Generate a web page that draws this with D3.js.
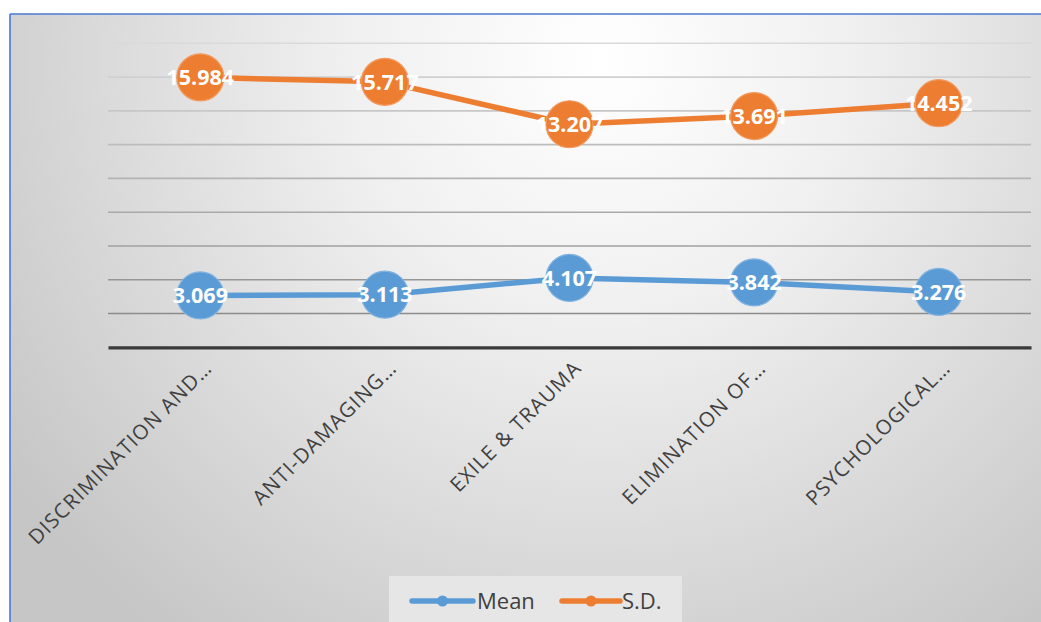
<!DOCTYPE html>
<html><head><meta charset="utf-8">
<script src="https://cdn.jsdelivr.net/npm/d3@7"></script>
<style>html,body{margin:0;padding:0;background:#fff;overflow:hidden}</style>
</head><body>
<svg id="c" width="1041" height="622"></svg>
<script>
const categories = ["DISCRIMINATION AND…", "ANTI-DAMAGING…", "EXILE & TRAUMA", "ELIMINATION OF…", "PSYCHOLOGICAL…"];
const meanValues = [3.069, 3.113, 4.107, 3.842, 3.276];
const sdValues = [15.984, 15.717, 13.207, 13.691, 14.452];
const seriesNames = ["Mean", "S.D."];
const yTicks = [0, 2, 4, 6, 8, 10, 12, 14, 16, 18];

const svg = d3.select("#c");
const defs = svg.append("defs");
const rg = defs.append("radialGradient").attr("id","bg").attr("gradientUnits","userSpaceOnUse")
  .attr("cx",600).attr("cy",60).attr("r",720);
rg.append("stop").attr("offset","0").attr("stop-color","#ffffff");
rg.append("stop").attr("offset","0.35").attr("stop-color","#f0f0f0");
rg.append("stop").attr("offset","1").attr("stop-color","#c6c6c6");

svg.append("rect").attr("x",10).attr("y",14).attr("width",1040).attr("height",620).attr("fill","url(#bg)");
svg.append("line").attr("x1",10).attr("x2",1041).attr("y1",14).attr("y2",14).attr("stroke","#4a78d6").attr("stroke-width",1.6);
svg.append("line").attr("x1",10).attr("x2",10).attr("y1",14).attr("y2",622).attr("stroke","#4a78d6").attr("stroke-width",1.6);

const x = d3.scaleBand().domain(categories).range([108,1031]);
const y = d3.scaleLinear().domain([0,18]).range([347.3,43.3]);
const cx = d => x(d) + x.bandwidth()/2;

const gridColor = d3.scaleLinear().domain([18,2]).range(["#dadada","#8c8c8c"]);
svg.append("g").selectAll("line").data(yTicks.filter(t=>t>0)).join("line")
  .attr("x1",108).attr("x2",1031).attr("y1",d=>y(d)).attr("y2",d=>y(d))
  .attr("stroke",d=>gridColor(d)).attr("stroke-width",1.6);

// x axis
const xAxis = svg.append("g").attr("transform",`translate(0,${y(0)})`)
  .call(d3.axisBottom(x).tickSize(0).tickFormat(""));
xAxis.select(".domain").attr("stroke","#3a3a3a").attr("stroke-width",3.2);

svg.append("g").selectAll("text").data(categories).join("text")
  .attr("transform",d=>`translate(${cx(d)+8},${y(0)+17}) rotate(-45)`)
  .attr("text-anchor","end").attr("dy","0.35em")
  .attr("font-family","'Open Sans', sans-serif").attr("font-size",20.5)
  .attr("letter-spacing","1.1px")
  .attr("fill","#404040").text(d=>d);

const series = [
  {name: seriesNames[0], values: meanValues, color:"#5b9bd5", edge:"#80b3e0"},
  {name: seriesNames[1], values: sdValues, color:"#ed7d31", edge:"#f29a5e"}
];
const line = d3.line().x((v,i)=>cx(categories[i])).y(v=>y(v));
series.forEach(s=>{
  const g = svg.append("g");
  g.append("path").datum(s.values).attr("d",line).attr("fill","none")
    .attr("stroke",s.color).attr("stroke-width",5.5).attr("stroke-linejoin","round");
  g.selectAll("circle").data(s.values).join("circle")
    .attr("cx",(v,i)=>cx(categories[i])).attr("cy",v=>y(v)).attr("r",23.5)
    .attr("fill",s.color).attr("stroke",s.edge).attr("stroke-width",1.2);
  g.selectAll("text").data(s.values).join("text")
    .attr("x",(v,i)=>cx(categories[i])).attr("y",v=>y(v)).attr("dy","0.36em")
    .attr("text-anchor","middle").attr("font-family","'Open Sans', sans-serif")
    .attr("font-weight","bold").attr("font-size",21.5).attr("fill","#ffffff")
    .text(v=>d3.format(".3f")(v));
});

// legend
const lg = svg.append("g");
lg.append("rect").attr("x",389).attr("y",576).attr("width",293).attr("height",60).attr("fill","#e6e6e6");
const legendItems = [
  {name: seriesNames[0], color:"#5b9bd5", x1:412, x2:473, tx:477},
  {name: seriesNames[1], color:"#ed7d31", x1:562, x2:620, tx:622}
];
legendItems.forEach(it=>{
  lg.append("line").attr("x1",it.x1).attr("x2",it.x2).attr("y1",601).attr("y2",601)
    .attr("stroke",it.color).attr("stroke-width",5.5).attr("stroke-linecap","round");
  lg.append("circle").attr("cx",(it.x1+it.x2)/2).attr("cy",601).attr("r",5.5).attr("fill",it.color);
  lg.append("text").attr("x",it.tx).attr("y",601).attr("dy","0.35em")
    .attr("font-family","'Open Sans', sans-serif").attr("font-size",22).attr("fill","#404040").text(it.name);
});
</script>
</body></html>
